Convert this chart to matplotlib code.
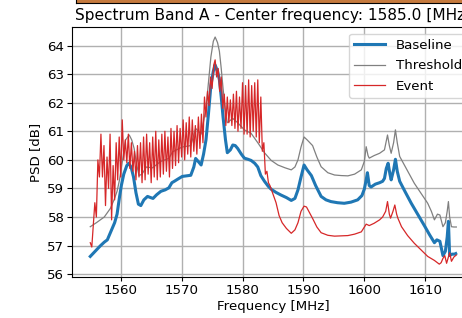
import numpy as np
import matplotlib
matplotlib.use('Agg')
import matplotlib.pyplot as plt

# baseline PSD (smooth)
base_freq = [1555.0, 1555.8, 1556.6, 1557.3, 1557.8, 1558.4, 1559.0, 1559.4, 1559.8, 1560.1,
             1560.5, 1561.0, 1561.3, 1561.7, 1562.1, 1562.5, 1562.9, 1563.3, 1563.8, 1564.4,
             1564.9, 1565.3, 1565.9, 1566.6, 1567.3, 1567.9, 1568.4, 1568.8, 1569.4, 1570.1,
             1570.8, 1571.5, 1572.0, 1572.3, 1572.7, 1573.2, 1573.6, 1574.0, 1574.4, 1574.8,
             1575.2, 1575.5, 1575.9, 1576.2, 1576.5, 1576.8, 1577.2, 1577.5, 1578.0, 1578.4,
             1578.8, 1579.2, 1579.8, 1580.3, 1580.9, 1581.4, 1582.0, 1582.5, 1583.0, 1583.6,
             1584.2, 1584.7, 1585.5, 1586.3, 1587.2, 1588.0, 1588.6, 1589.1, 1589.6, 1590.1,
             1590.6, 1591.3, 1592.0, 1592.9, 1593.7, 1594.5, 1595.6, 1596.7, 1597.8, 1598.9,
             1599.6, 1600.0, 1600.3, 1600.5, 1600.8, 1601.1, 1601.8, 1602.5, 1603.0, 1603.3,
             1603.6, 1603.9, 1604.2, 1604.4, 1604.8, 1605.1, 1605.4, 1605.8, 1606.7, 1607.7,
             1608.8, 1609.9, 1610.7, 1611.5, 1611.9, 1612.4, 1612.9, 1613.3, 1613.6, 1613.8,
             1614.0, 1614.4, 1614.8, 1615.0]
base_psd = [56.62, 56.8, 56.98, 57.12, 57.2, 57.5, 57.8, 58.1, 58.7, 59.1,
            59.5, 59.8, 59.88, 59.75, 59.4, 58.85, 58.45, 58.4, 58.6, 58.72,
            58.68, 58.65, 58.78, 58.9, 58.95, 59.02, 59.2, 59.25, 59.33, 59.42,
            59.44, 59.46, 59.75, 60.05, 59.95, 59.82, 60.2, 60.7, 61.6, 62.6,
            63.1, 63.32, 63.1, 62.8, 62.2, 61.5, 60.7, 60.25, 60.35, 60.52,
            60.5, 60.4, 60.2, 60.06, 60.02, 59.98, 59.88, 59.75, 59.45, 59.25,
            59.08, 58.97, 58.86, 58.77, 58.68, 58.58, 58.65, 58.95, 59.4, 59.82,
            59.65, 59.45, 59.1, 58.72, 58.6, 58.54, 58.5, 58.48, 58.52, 58.6,
            58.75, 58.98, 59.3, 59.55, 59.1, 59.05, 59.15, 59.2, 59.25, 59.35,
            59.7, 59.88, 59.5, 59.3, 59.65, 60.02, 59.6, 59.25, 58.88, 58.48,
            58.08, 57.68, 57.38, 57.1, 57.2, 57.15, 56.65, 56.8, 57.3, 57.85,
            56.65, 56.7, 56.7, 56.72]

# threshold PSD
thr_freq = [1555.0, 1556.0, 1557.3, 1558.3, 1558.9, 1559.4, 1559.8, 1560.3, 1560.8, 1561.4,
            1561.8, 1562.2, 1562.6, 1563.0, 1563.5, 1564.2, 1565.2, 1566.6, 1567.9, 1568.5,
            1570.1, 1571.5, 1572.3, 1573.2, 1574.0, 1574.4, 1574.8, 1575.2, 1575.5, 1575.9,
            1576.2, 1576.5, 1576.8, 1577.2, 1577.5, 1578.4, 1579.2, 1580.3, 1581.4, 1582.5,
            1583.6, 1584.7, 1585.8, 1587.0, 1588.0, 1588.6, 1589.1, 1589.6, 1590.1, 1590.6,
            1591.5, 1592.2, 1592.9, 1594.0, 1595.1, 1596.2, 1597.3, 1598.4, 1599.5, 1600.0,
            1600.3, 1600.6, 1600.8, 1601.6, 1602.5, 1603.3, 1603.8, 1604.1, 1604.4, 1604.8,
            1605.1, 1605.4, 1605.8, 1607.0, 1608.2, 1609.3, 1610.4, 1611.0, 1611.5, 1612.0,
            1612.4, 1612.9, 1613.3, 1613.6, 1613.8, 1614.0, 1614.3, 1614.7, 1615.1]
thr_psd = [57.66, 57.8, 58.0, 58.3, 58.6, 58.9, 59.3, 60.0, 60.7, 60.87,
           60.7, 60.4, 59.85, 59.45, 59.5, 59.75, 59.72, 59.95, 60.05, 60.28,
           60.45, 60.5, 61.1, 60.9, 61.8, 62.7, 63.6, 64.15, 64.3, 64.1,
           63.8, 63.2, 62.5, 61.7, 61.3, 61.45, 61.3, 61.05, 60.93, 60.6,
           60.25, 59.98, 59.82, 59.72, 59.65, 59.75, 60.0, 60.45, 60.8, 60.7,
           60.5, 60.1, 59.76, 59.55, 59.47, 59.45, 59.44, 59.5, 59.65, 59.95,
           60.46, 60.15, 60.06, 60.15, 60.23, 60.35, 60.87, 60.5, 60.23, 60.6,
           61.05, 60.6, 60.12, 59.65, 59.18, 58.83, 58.48, 58.2, 57.9, 58.1,
           58.07, 57.66, 57.8, 58.2, 58.54, 58.0, 57.66, 57.65, 57.65]

# event PSD: noisy part sampled every 0.25 MHz from 1555.0 to 1584.75
event_noisy = [57.1, 56.95, 57.7, 58.5,
               58.0, 60.0, 59.4, 60.9,
               59.4, 60.5, 58.4, 60.1,
               59.0, 60.9, 57.9, 59.8,
               58.6, 60.6, 59.3, 60.8,
               59.4, 61.4, 60.0, 60.7,
               59.9, 60.9, 59.7, 60.6,
               59.6, 60.3, 59.3, 60.5,
               59.4, 60.6, 59.2, 60.8,
               59.3, 60.9, 59.5, 60.6,
               59.2, 60.8, 59.4, 61.0,
               59.3, 60.7, 59.4, 60.9,
               59.5, 61.0, 59.6, 60.8,
               59.4, 61.1, 59.7, 61.0,
               59.8, 61.2, 59.9, 61.1,
               60.1, 61.4, 60.0, 61.3,
               60.2, 61.5, 60.1, 61.4,
               60.3, 61.2, 60.2, 61.5,
               60.4, 61.6, 60.6, 62.2,
               61.5, 62.4, 61.9, 62.9,
               62.5, 63.3, 63.5, 62.9,
               63.2, 62.4, 62.9, 61.8,
               62.3, 61.2, 62.2, 61.3,
               62.1, 61.2, 62.3, 61.1,
               62.4, 61.0, 62.2, 61.1,
               62.7, 60.9, 62.6, 60.9,
               62.8, 60.8, 62.6, 61.0,
               62.7, 60.8, 62.8, 60.6,
               62.2, 60.3, 60.6, 59.5,
               59.6, 59.2, 59.1, 58.95]
event_tail_freq = [1585.0, 1585.5, 1586.0, 1586.5, 1587.2, 1588.0, 1588.6, 1589.1, 1589.6, 1590.1,
                   1590.5, 1591.0, 1591.5, 1592.2, 1592.9, 1594.0, 1595.1, 1596.2, 1597.3, 1598.4,
                   1599.5, 1600.0, 1600.3, 1600.8, 1601.6, 1602.5, 1603.0, 1603.5, 1603.8, 1604.1,
                   1604.3, 1604.7, 1605.0, 1605.3, 1605.5, 1606.1, 1607.1, 1608.2, 1609.3, 1610.4,
                   1611.5, 1612.3, 1612.6, 1612.9, 1613.2, 1613.5, 1613.8, 1614.0, 1614.3, 1614.7,
                   1615.1]
event_tail_psd = [58.8, 58.5, 58.05, 57.8, 57.6, 57.43, 57.55, 57.8, 58.2, 58.38,
                  58.35, 58.15, 57.95, 57.65, 57.45, 57.36, 57.33, 57.34, 57.35, 57.4,
                  57.48, 57.65, 57.75, 57.7, 57.78, 57.9, 58.0, 58.2, 58.54, 58.1,
                  57.96, 58.2, 58.42, 58.1, 57.96, 57.66, 57.35, 57.08, 56.85, 56.62,
                  56.48, 56.35, 56.4, 56.55, 56.65, 56.38, 56.6, 56.75, 56.45, 56.6,
                  56.67]

event_freq = np.concatenate([1555.0 + 0.25 * np.arange(len(event_noisy)), event_tail_freq])
event_psd = np.concatenate([event_noisy, event_tail_psd])

plt.rcParams['font.size'] = 9.6

W, H = 462, 318
fig = plt.figure(figsize=(W / 100, H / 100), dpi=100)

# strip of the image panel above (cut off)
top = fig.add_axes([76 / W, 315 / H, 1.0, 0.05])
top.set_facecolor('#c57a3e')
top.set_xticks([])
top.set_yticks([])
for s in top.spines.values():
    s.set_color('black')

ax = fig.add_axes([72 / W, 41 / H, 402 / W, 250 / H])
ax.plot(base_freq, base_psd, color='#1f77b4', lw=2.2, label='Baseline')
ax.plot(thr_freq, thr_psd, color='#808080', lw=0.9, label='Threshold')
ax.plot(event_freq, event_psd, color='#d62728', lw=0.9, label='Event')

ax.set_xlim(1552, 1618)
ax.set_ylim(55.9, 64.65)
ax.set_xticks([1560, 1570, 1580, 1590, 1600, 1610])
ax.set_yticks(np.arange(56, 65, 1))
ax.tick_params(axis='x', length=3, pad=2)
ax.tick_params(axis='y', length=3.5, pad=2)
ax.grid(True, color='#b0b0b0', lw=1.0)
ax.set_xlabel('Frequency [MHz]', labelpad=2)
ax.set_ylabel('PSD [dB]', labelpad=4)
ax.set_title('Spectrum Band A - Center frequency: 1585.0 [MHz]', fontsize=11.1, pad=5)
ax.legend(loc='upper right', handlelength=2.3, handletextpad=0.8, labelspacing=0.55)

fig.savefig('out.png', dpi=100)
